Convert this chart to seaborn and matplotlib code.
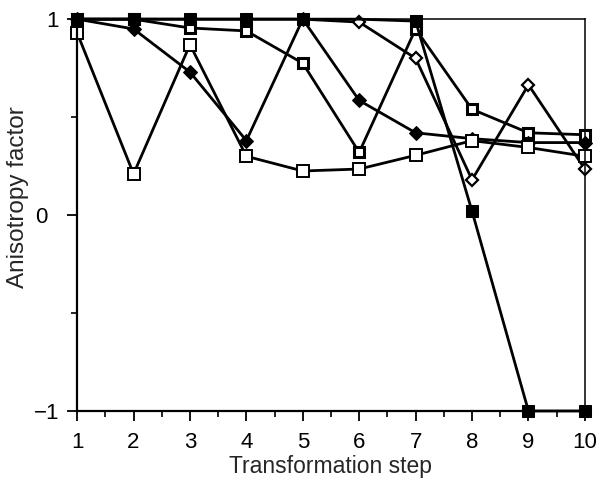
import matplotlib
matplotlib.use("Agg")
import matplotlib.pyplot as plt
from matplotlib.ticker import MultipleLocator
import numpy as np
import pandas as pd
import seaborn as sns

steps = [1, 2, 3, 4, 5, 6, 7, 8, 9, 10]

open_diamond = [1.0, 1.0, 1.0, 1.0, 1.0, 0.985, 0.80, 0.18, 0.665, 0.235]
open_square_b = [1.0, 1.0, 0.955, 0.94, 0.775, 0.32, 0.95, 0.54, 0.42, 0.41]
filled_diamond = [1.0, 0.95, 0.73, 0.38, 1.0, 0.585, 0.42, 0.39, 0.37, 0.37]
open_square_a = [0.93, 0.21, 0.87, 0.30, 0.225, 0.235, 0.305, 0.38, 0.345, 0.30]
filled_square = [1.0, 1.0, 1.0, 1.0, 1.0, 1.0, 0.99, 0.02, -1.0, -1.0]

x_ticks = [1, 2, 3, 4, 5, 6, 7, 8, 9, 10]
y_ticks = [-1, 0, 1]
y_tick_labels = ["\u22121", "0\u2002", "1"]

sns.set_style("ticks")
plt.rcParams["font.family"] = ["Liberation Sans", "DejaVu Sans"]

fig = plt.figure(figsize=(5.98, 4.79), dpi=100)
ax = fig.add_axes([0.129, 0.142, 0.849, 0.818])

series = [
    ("open diamond", open_diamond, dict(marker="D", markersize=6.5, markerfacecolor="white",
                                        markeredgecolor="black", markeredgewidth=1.6,
                                        markevery=[5, 6, 7, 8, 9])),
    ("open square b", open_square_b, dict(marker="s", markersize=7, markerfacecolor="white",
                                          markeredgecolor="black", markeredgewidth=2.2)),
    ("filled diamond", filled_diamond, dict(marker="D", markersize=7, markerfacecolor="black",
                                            markeredgecolor="black")),
    ("open square a", open_square_a, dict(marker="s", markersize=8, markerfacecolor="white",
                                          markeredgecolor="black", markeredgewidth=1.4)),
    ("filled square", filled_square, dict(marker="s", markersize=8, markerfacecolor="black",
                                          markeredgecolor="black",
                                          markevery=[0, 1, 2, 3, 4, 6, 7, 8, 9])),
]

for name, values, style in series:
    df = pd.DataFrame({"step": steps, "value": values})
    sns.lineplot(data=df, x="step", y="value", ax=ax, color="black", linewidth=2.0,
                 sort=False, legend=False, **style)

for line in ax.get_lines():
    line.set_clip_on(False)

ax.set_xlim(1, 10)
ax.set_ylim(-1, 1)
ax.set_xticks(x_ticks)
ax.set_yticks(y_ticks)
ax.set_yticklabels(y_tick_labels)
ax.xaxis.set_minor_locator(MultipleLocator(0.5))
ax.yaxis.set_minor_locator(MultipleLocator(0.5))
ax.tick_params(which="major", direction="out", length=7, width=1.3, labelsize=16,
               color="black", labelcolor="black")
ax.tick_params(which="minor", direction="out", length=4, width=1.2, color="black")
ax.tick_params(axis="x", which="major", pad=8)
ax.tick_params(axis="y", which="major", pad=6)

for side in ["left", "bottom", "right", "top"]:
    ax.spines[side].set_visible(True)
    ax.spines[side].set_color("black")
ax.spines["left"].set_linewidth(1.6)
ax.spines["bottom"].set_linewidth(1.6)
ax.spines["right"].set_linewidth(1.1)
ax.spines["top"].set_linewidth(1.1)

ax.set_xlabel("Transformation step", fontsize=16.5)
ax.xaxis.set_label_coords(0.5, -0.112)
ax.set_ylabel("Anisotropy factor", fontsize=17.5)
ax.yaxis.set_label_coords(-0.094, 0.545)

fig.savefig("out.png", dpi=100)
